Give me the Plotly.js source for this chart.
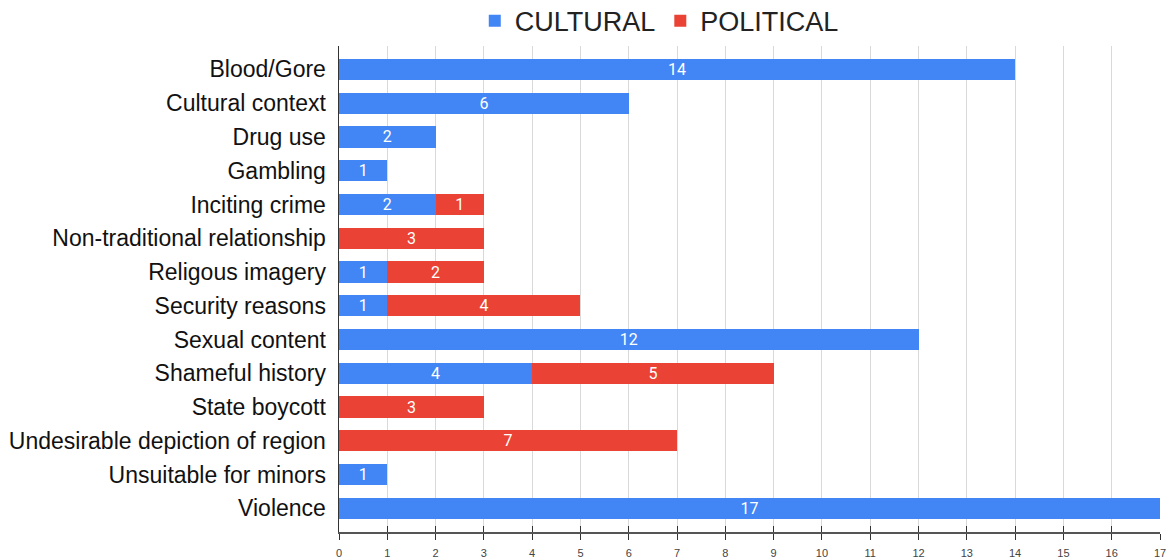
<!DOCTYPE html>
<html>
<head>
<meta charset="utf-8">
<script src="https://cdn.plot.ly/plotly-3.0.1.min.js"></script>
<style>html,body{margin:0;padding:0;background:#fff;}#chart{width:1171px;height:560px;}</style>
</head>
<body>
<div id="chart"></div>
<script>
const categories = ["Blood/Gore","Cultural context","Drug use","Gambling","Inciting crime","Non-traditional relationship","Religous imagery","Security reasons","Sexual content","Shameful history","State boycott","Undesirable depiction of region","Unsuitable for minors","Violence"];
const cultural = [14, 6, 2, 1, 2, null, 1, 1, 12, 4, null, null, 1, 17];
const political = [null, null, null, null, 1, 3, 2, 4, null, 5, 3, 7, null, null];
const xTicks = [0,1,2,3,4,5,6,7,8,9,10,11,12,13,14,15,16,17];

const FONT = "'Liberation Sans', Arial, sans-serif";
const BARFONT = "Roboto, Arial, sans-serif";
function lbl(arr){ return arr.map(v => v == null ? "" : String(v)); }

const traces = [
  {type:"bar", orientation:"h", name:"CULTURAL", y:categories, x:cultural,
   marker:{color:"#4285F4"}, text:lbl(cultural), textposition:"inside",
   insidetextanchor:"middle", textangle:0, constraintext:"none",
   textfont:{color:"#ffffff", size:16, family:BARFONT}, hoverinfo:"x+y+name"},
  {type:"bar", orientation:"h", name:"POLITICAL", y:categories, x:political,
   marker:{color:"#EA4335"}, text:lbl(political), textposition:"inside",
   insidetextanchor:"middle", textangle:0, constraintext:"none",
   textfont:{color:"#ffffff", size:16, family:BARFONT}, hoverinfo:"x+y+name"},
  {type:"scatter", x:[0], y:[categories[0]], xaxis:"x2", yaxis:"y",
   mode:"none", showlegend:false, hoverinfo:"skip"}
];

const layout = {
  width:1171, height:560,
  margin:{l:339, r:11, t:45, b:28, pad:0},
  paper_bgcolor:"#fff", plot_bgcolor:"#fff",
  font:{family:FONT, color:"#222"},
  barmode:"stack", bargap:0.37,
  showlegend:true,
  legend:{orientation:"h", xref:"container", yref:"container", x:0.563, xanchor:"center",
          y:0.962, yanchor:"middle", font:{size:27, color:"#222", family:FONT},
          itemwidth:30, traceorder:"normal"},
  xaxis:{range:[0,17], tickvals:xTicks, ticktext:xTicks.map(String),
         showgrid:true, gridcolor:"#d9d9d9", gridwidth:1,
         zeroline:false, showline:true, linecolor:"#555", linewidth:1.5,
         ticks:"outside", ticklen:6, tickcolor:"#333", tickwidth:1,
         ticklabelstandoff:4,
         tickfont:{size:11, color:"#444", family:FONT}, fixedrange:true},
  xaxis2:{overlaying:"x", matches:"x", side:"bottom", anchor:"y",
          tickvals:xTicks, showticklabels:false, showgrid:false, zeroline:false,
          ticks:"inside", ticklen:6, tickcolor:"#333", tickwidth:1, showline:false},
  yaxis:{autorange:false, range:[13.7, -0.7], type:"category",
         categoryorder:"array", categoryarray:categories,
         showgrid:false, zeroline:false, showline:true, linecolor:"#333", linewidth:1.5,
         ticks:"", ticklabelstandoff:7,
         tickfont:{size:23, color:"#111", family:FONT}, fixedrange:true}
};

Plotly.newPlot("chart", traces, layout, {displayModeBar:false, staticPlot:true});
</script>
</body>
</html>
